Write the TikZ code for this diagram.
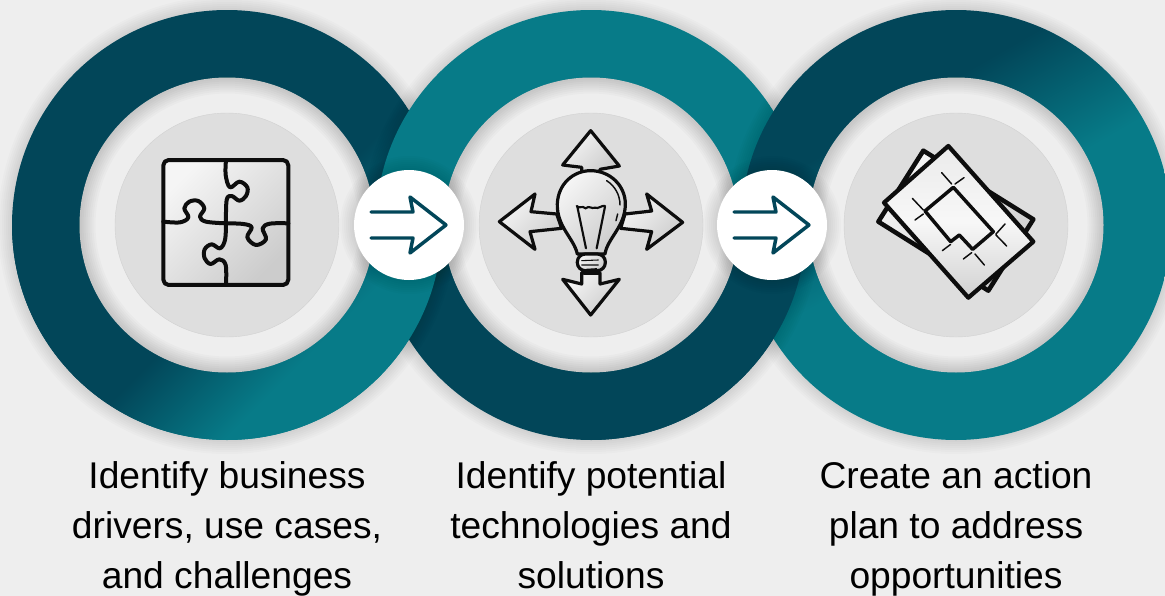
\documentclass[tikz,border=0pt]{standalone}
\usepackage{fontspec}
\setmainfont{Liberation Sans}
\usetikzlibrary{arrows.meta,positioning}

\definecolor{tealdark}{HTML}{024659}
\definecolor{teallight}{HTML}{077B88}
\definecolor{pagegrey}{HTML}{EEEEEE}
\definecolor{hubgrey}{HTML}{DEDEDE}

\pgfdeclareverticalshading{ringshadeA}{100bp}{color(0bp)=(teallight); color(32.5bp)=(teallight); color(45bp)=(tealdark); color(100bp)=(tealdark)}
\pgfdeclareverticalshading{ringshadeB}{100bp}{color(0bp)=(tealdark); color(45bp)=(tealdark); color(55bp)=(teallight); color(100bp)=(teallight)}
\pgfdeclareverticalshading{ringshadeC}{100bp}{color(0bp)=(teallight); color(50bp)=(teallight); color(65bp)=(tealdark); color(100bp)=(tealdark)}

\tikzset{
  ringA/.style={shading=ringshadeA,shading angle=45},
  ringB/.style={shading=ringshadeB},
  ringC/.style={shading=ringshadeC,shading angle=30},
  capnode/.style={align=center,font=\fontsize{27.9}{37.5}\selectfont,text=black,inner sep=0pt},
  joindisc/.style={circle,fill=white,minimum size=82.5pt,inner sep=0pt},
  hubdisc/.style={circle,fill=hubgrey,draw=black!18,line width=.3pt,minimum size=168pt,inner sep=0pt},
  iconline/.style={draw=black!95,line width=3pt,line join=round,line cap=round},
  iconfill/.style={iconline,top color=white!96!black,bottom color=black!20,shading angle=45},
  iconbulb/.style={iconfill,line width=2.4pt},
  iconthin/.style={draw=black!95,line width=1.1pt,line cap=round},
}

% soft edge outside a disc
\newcommand\SoftRim[2]{
  \foreach \r in {0,2,...,14}{
    \fill[black,opacity=.016] (#1) circle[radius=#2+\r];
  }
}
\newcommand\RingAt[2]{\path[even odd rule,#2] (#1) circle[radius=215] (#1) circle[radius=147];}
% soft edge inside the pale disc
\newcommand\InnerRim[1]{
  \fill[pagegrey] (#1) circle[radius=147.5];
  \foreach \r in {2,4,...,16}{
    \fill[black,opacity=.018,even odd rule] (#1) circle[radius=147.5] (#1) circle[radius=147.5-\r];
  }
}
\newcommand\JoinArrow[1]{
  \draw[tealdark,line width=2.6pt,line join=round,line cap=round,shift={(#1)}]
    (-38,-13) -- (4,-13) -- (1,-28) -- (37,0) -- (1,28) -- (4,13) -- (-38,13);
}

\begin{document}
\begin{tikzpicture}[x=.75pt,y=-.75pt]

  \clip (0,0) rectangle (1165,596);
  \fill[pagegrey] (0,0) rectangle (1165,596);

  \coordinate (ringA) at (227,225);
  \coordinate (ringB) at (591,225);
  \coordinate (ringC) at (956,225);

  % rings, each over the one before
  \SoftRim{ringA}{215}
  \RingAt{ringA}{ringA}
  \SoftRim{ringB}{215}
  \RingAt{ringB}{ringB}
  \SoftRim{ringC}{215}
  \RingAt{ringC}{ringC}

  % lower halves go back over the next ring
  \begin{scope}
    \clip (591,225) rectangle (1165,596);
    \begin{scope}
      \clip (ringC) circle[radius=215];
      \SoftRim{ringB}{215}
    \end{scope}
    \RingAt{ringB}{ringB}
  \end{scope}
  \begin{scope}
    \clip (0,225) rectangle (591,596);
    \begin{scope}
      \clip (ringB) circle[radius=215];
      \SoftRim{ringA}{215}
    \end{scope}
    \RingAt{ringA}{ringA}
  \end{scope}

  % pale and grey discs
  \InnerRim{ringA}
  \InnerRim{ringB}
  \InnerRim{ringC}
  \node[hubdisc] (hubA) at (ringA) {};
  \node[hubdisc] (hubB) at (ringB) {};
  \node[hubdisc] (hubC) at (ringC) {};

  % white discs with arrows
  \coordinate (joinposA) at (409,225);
  \coordinate (joinposB) at (772,225);
  \SoftRim{joinposA}{55}
  \SoftRim{joinposB}{55}
  \node[joindisc] (joinA) at (joinposA) {};
  \node[joindisc] (joinB) at (joinposB) {};
  \JoinArrow{joinA}
  \JoinArrow{joinB}

  % puzzle
  \begin{scope}[shift={(130,130)},scale=1/3]
    \draw[iconfill,rounded corners=4pt] (100,90) rectangle (475,465);
    \draw[iconline] plot[smooth,tension=.6] coordinates {(288,90) (287,135) (300,172) (328,155) (352,172) (348,198) (328,212) (305,198) (290,210) (288,280)};
    \draw[iconline] plot[smooth,tension=.6] coordinates {(288,280) (285,330) (270,355) (245,343) (224,358) (224,385) (242,402) (268,388) (287,405) (288,465)};
    \draw[iconline] plot[smooth,tension=.6] coordinates {(100,275) (150,277) (175,262) (163,235) (178,215) (205,213) (223,235) (210,260) (228,275) (288,280)};
    \draw[iconline] plot[smooth,tension=.6] coordinates {(288,280) (340,282) (365,292) (352,322) (378,345) (408,328) (398,295) (420,281) (475,280)};
  \end{scope}

  % bulb and arrows
  \begin{scope}[shift={(350,110)},scale=1/3]
    \draw[iconbulb] (695,190) -- (695,172) -- (638,165) -- (722,62) -- (808,168) -- (750,178) -- (750,190) -- cycle;
    \draw[iconbulb] (620,312) -- (543,305) -- (555,252) -- (448,335) -- (555,418) -- (540,365) -- (635,355) -- cycle;
    \draw[iconbulb] (825,312) -- (905,303) -- (890,252) -- (998,337) -- (890,418) -- (905,365) -- (812,355) -- cycle;
    \draw[iconbulb] (695,488) -- (695,522) -- (638,508) -- (722,615) -- (808,508) -- (750,522) -- (750,488) -- cycle;
    \draw[iconbulb] (682,432) .. controls (672,385) and (620,350) .. (622,282) .. controls (624,222) and (670,182) .. (722,182) .. controls (778,182) and (826,225) .. (826,282) .. controls (826,350) and (772,385) .. (765,432) -- cycle;
    \draw[iconbulb,rounded corners=6pt] (682,432) rectangle (766,482);
    \draw[iconline,line width=2.4pt] (702,490) -- (745,490);
    \draw[iconthin,line width=.8pt] (695,452) -- (745,450) (695,465) -- (745,465) (708,478) -- (740,476);
    \draw[iconthin,line width=1.6pt] (680,288) .. controls (690,298) and (695,285) .. (707,295) .. controls (717,285) and (725,298) .. (735,293) .. controls (745,298) and (755,285) .. (765,288);
    \draw[iconthin,line width=1.6pt] (682,290) -- (708,415) (765,290) -- (740,415);
    \draw[iconthin] (770,212) .. controls (795,228) and (810,255) .. (810,285);
    \draw[iconthin] (803,312) -- (798,332);
  \end{scope}

  % sheets
  \begin{scope}[shift={(860,130)},scale=1/3]
    \draw[iconfill,line width=3.4pt] (190,62) -- (520,268) -- (385,482) -- (55,275) -- cycle;
    \draw[iconfill,line width=3.2pt,shading angle=80,top color=white!92!black,bottom color=black!18,middle color=white!97!black] (265,48) -- (520,335) -- (325,503) -- (72,218) -- cycle;
    \draw[iconline,line width=2.6pt] (195,243) -- (280,172) -- (400,305) -- (338,358) -- (298,315) -- (272,335) -- cycle;
    \draw[iconthin] (245,128) -- (275,162) (285,162) -- (312,143) (157,205) -- (190,240) (165,270) -- (190,252);
    \draw[iconthin] (247,362) -- (272,343) (310,387) -- (335,368) (345,372) -- (373,405) (408,312) -- (435,282) (408,315) -- (440,348);
  \end{scope}

  % captions
  \node[capnode] (capA) at (227,528.5) {\strut Identify business\\drivers, use cases,\\\strut and challenges};
  \node[capnode] (capB) at (591,528.5) {\strut Identify potential\\technologies and\\\strut solutions};
  \node[capnode] (capC) at (956,528.5) {\strut Create an action\\plan to address\\\strut opportunities};

\end{tikzpicture}
\end{document}
